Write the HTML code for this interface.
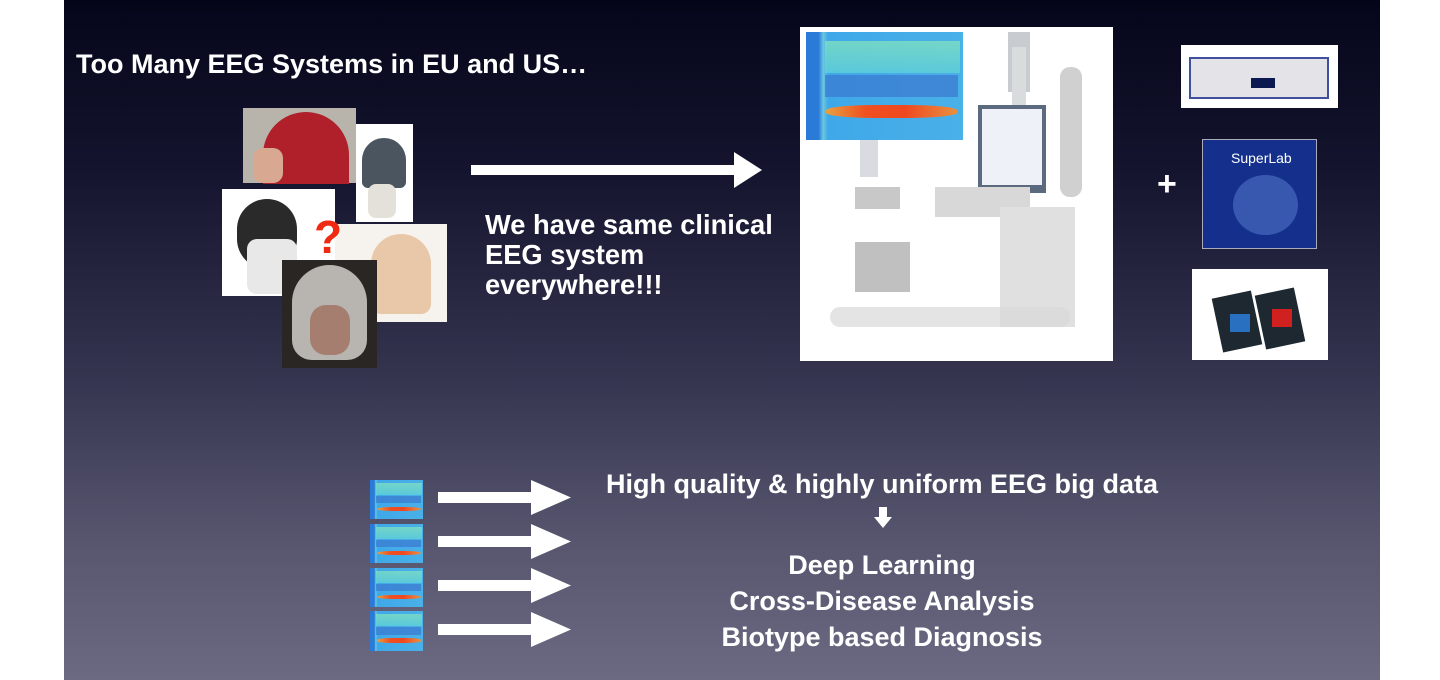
<!DOCTYPE html><html><head><meta charset="utf-8"><style>
*{margin:0;padding:0;box-sizing:border-box}
body{width:1440px;height:680px;background:#fff;position:relative;overflow:hidden;font-family:"Liberation Sans",sans-serif}
#s{position:absolute;left:64px;top:0;width:1316px;height:680px;background:linear-gradient(#05051a 0%,#14142e 25%,#34344f 55%,#58566f 80%,#6c6982 100%)}
.a{position:absolute}
.t{position:absolute;color:#fff;font-weight:bold;white-space:nowrap}
.sp{position:absolute;overflow:hidden;background:linear-gradient(90deg,#2a7ad8 0,#2a7ad8 8%,#6ac8e0 11%,#3fa8e8 14%,#4ab0e8 100%)}
.sp::before{content:"";position:absolute;left:12%;right:2%;top:8%;height:30%;background:linear-gradient(#7fe0c0,#60d0d8);opacity:.8}
.sp::after{content:"";position:absolute;left:13%;right:4%;top:68%;height:12%;background:linear-gradient(90deg,#e8a040,#f05020 30%,#f04820 60%,#e89040);border-radius:40%}
.sp i{position:absolute;left:12%;right:3%;top:40%;height:20%;background:#3a78d0;opacity:.7}
</style></head><body>
<div id="s"></div>
<div class="t" style="left:76px;top:49px;font-size:27px">Too Many EEG Systems in EU and US…</div>

<!-- photos -->
<div class="a" style="left:356px;top:124px;width:57px;height:98px;background:#fff"><div class="a" style="left:6px;top:14px;width:44px;height:50px;border-radius:22px 22px 6px 6px;background:#4a5560"></div><div class="a" style="left:12px;top:60px;width:28px;height:34px;background:#e4e0da;border-radius:8px"></div></div>
<div class="a" style="left:243px;top:108px;width:113px;height:75px;background:#b8b4ac"><div class="a" style="left:20px;top:4px;width:86px;height:72px;border-radius:45px 45px 0 0;background:#b0202a"></div><div class="a" style="left:10px;top:40px;width:30px;height:35px;background:#d8a890;border-radius:10px"></div></div>
<div class="a" style="left:335px;top:224px;width:112px;height:98px;background:#f6f2ee"><div class="a" style="left:36px;top:10px;width:60px;height:80px;background:#e8c8a8;border-radius:30px 30px 10px 10px"></div></div>
<div class="a" style="left:222px;top:189px;width:113px;height:107px;background:#fff"><div class="a" style="left:15px;top:10px;width:60px;height:70px;border-radius:30px;background:#2a2a2a"></div><div class="a" style="left:25px;top:50px;width:50px;height:55px;background:#e8e8e8;border-radius:10px"></div></div>
<div class="t" style="left:314px;top:210px;font-size:46px;color:#f02a10">?</div>
<div class="a" style="left:282px;top:260px;width:95px;height:108px;background:#2a2624"><div class="a" style="left:10px;top:5px;width:75px;height:95px;border-radius:38px 38px 20px 20px;background:#b8b4b0"></div><div class="a" style="left:28px;top:45px;width:40px;height:50px;background:#a07060;border-radius:16px;opacity:.8"></div></div>

<!-- top arrow -->
<svg class="a" style="left:470px;top:150px" width="295" height="40"><rect x="1" y="15" width="265" height="10" fill="#fff"/><polygon points="264,2 292,20 264,38" fill="#fff"/></svg>
<div class="t" style="left:485px;top:210px;font-size:27.3px;line-height:30px">We have same clinical<br>EEG system<br>everywhere!!!</div>

<!-- big panel -->
<div class="a" style="left:800px;top:27px;width:313px;height:334px;background:#fff">
 <div class="a" style="left:60px;top:110px;width:18px;height:40px;background:#d8dce0"></div>
 <div class="a" style="left:55px;top:160px;width:45px;height:22px;background:#c8c8c8"></div>
 <div class="a" style="left:55px;top:215px;width:55px;height:50px;background:#c0c0c0"></div>
 <div class="a" style="left:208px;top:5px;width:22px;height:60px;background:#c8ccd0"></div>
 <div class="a" style="left:212px;top:20px;width:14px;height:130px;background:#d8dcdc"></div>
 <div class="a" style="left:178px;top:78px;width:68px;height:88px;background:#5c6a80"><div class="a" style="left:4px;top:4px;width:60px;height:76px;background:#eef2f8"></div></div>
 <div class="a" style="left:135px;top:160px;width:95px;height:30px;background:#d8d8d8"></div>
 <div class="a" style="left:200px;top:180px;width:75px;height:120px;background:#e0e0e0"></div>
 <div class="a" style="left:260px;top:40px;width:22px;height:130px;background:#d0d0d0;border-radius:10px"></div>
 <div class="a" style="left:30px;top:280px;width:240px;height:20px;background:#d8d8d8;border-radius:10px;opacity:.7"></div>
</div>
<div class="sp" style="left:806px;top:32px;width:157px;height:108px"><i></i></div>

<div class="t" style="left:1157px;top:165px;font-size:34px">+</div>
<div class="a" style="left:1181px;top:45px;width:157px;height:63px;background:#fff"><div class="a" style="left:8px;top:12px;width:140px;height:42px;background:#e4e4e8;border:2px solid #4050a0"></div><div class="a" style="left:70px;top:33px;width:24px;height:10px;background:#0a1a50"></div></div>
<div class="a" style="left:1202px;top:139px;width:115px;height:110px;background:#14308c;border:1px solid #aab"><div class="a" style="left:30px;top:35px;width:65px;height:60px;border-radius:50%;background:#3858b0"></div><div class="t" style="left:28px;top:10px;font-size:14px;font-weight:normal">SuperLab</div></div>
<div class="a" style="left:1192px;top:269px;width:136px;height:91px;background:#fff"><div class="a" style="left:25px;top:25px;width:40px;height:55px;background:#1e2830;transform:rotate(-12deg)"></div><div class="a" style="left:68px;top:22px;width:40px;height:55px;background:#1e2830;transform:rotate(-12deg)"></div><div class="a" style="left:80px;top:40px;width:20px;height:18px;background:#d02020"></div><div class="a" style="left:38px;top:45px;width:20px;height:18px;background:#2a70c0"></div></div>

<!-- bottom -->
<div class="sp" style="left:370px;top:480px;width:53px;height:39px"><i></i></div>
<div class="sp" style="left:370px;top:524px;width:53px;height:39px"><i></i></div>
<div class="sp" style="left:370px;top:568px;width:53px;height:39px"><i></i></div>
<div class="sp" style="left:370px;top:611px;width:53px;height:40px"><i></i></div>
<svg class="a" style="left:437px;top:478px" width="140" height="180">
<g fill="#fff">
<rect x="1" y="14" width="95" height="11"/><polygon points="94,2 134,19.5 94,37"/>
<rect x="1" y="58" width="95" height="11"/><polygon points="94,46 134,63.5 94,81"/>
<rect x="1" y="102" width="95" height="11"/><polygon points="94,90 134,107.5 94,125"/>
<rect x="1" y="146" width="95" height="11"/><polygon points="94,134 134,151.5 94,169"/>
</g></svg>
<div class="t" style="left:0;width:1764px;text-align:center;top:469px;font-size:27px">High quality &amp; highly uniform EEG big data</div>
<svg class="a" style="left:873px;top:506px" width="20" height="24"><rect x="6" y="1" width="8" height="11" fill="#fff"/><polygon points="1,11 19,11 10,22" fill="#fff"/></svg>
<div class="t" style="left:0;width:1764px;text-align:center;top:547px;font-size:27px;line-height:36px">Deep Learning<br>Cross-Disease Analysis<br>Biotype based Diagnosis</div>
</body></html>
